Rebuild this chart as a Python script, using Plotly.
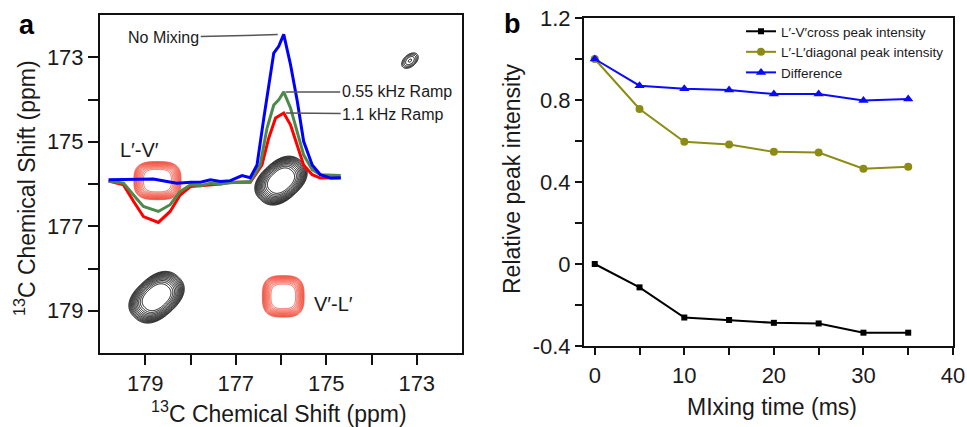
import numpy as np
import plotly.graph_objects as go

FONT = "Liberation Sans, Arial, sans-serif"
W, H = 967, 427

# ---------------- Panel a : 1D slices (x = ppm, y = plotted position in ppm) -------------
blue_x = [179.81, 179.26, 178.82, 178.52, 178.30, 178.00, 177.78, 177.56, 177.34, 177.12,
          176.86, 176.68, 176.53, 176.38, 176.16, 176.05, 175.94, 175.79, 175.64, 175.50,
          175.31, 175.13, 174.90, 174.68]
blue_y = [175.90, 175.88, 175.88, 175.94, 175.98, 175.96, 175.96, 175.90, 175.94, 175.92,
          175.80, 175.85, 175.55, 174.44, 172.90, 172.74, 172.46, 173.17, 174.04, 174.99,
          175.55, 175.78, 175.86, 175.85]
green_x = [179.81, 179.48, 179.26, 179.04, 178.71, 178.45, 178.23, 178.00, 177.78, 177.56,
           177.34, 177.12, 176.68, 176.46, 176.31, 176.16, 176.05, 175.94, 175.79, 175.64,
           175.50, 175.31, 175.13, 174.68]
green_y = [175.93, 175.98, 176.26, 176.53, 176.65, 176.49, 176.18, 176.02, 176.04, 175.98,
           176.00, 175.97, 175.94, 175.55, 174.68, 174.13, 174.01, 173.82, 174.20, 174.75,
           175.31, 175.66, 175.78, 175.80]
red_x = [179.81, 179.48, 179.26, 179.04, 178.71, 178.45, 178.23, 178.00, 177.78, 177.56,
         177.34, 177.12, 176.68, 176.42, 176.27, 176.12, 175.94, 175.79, 175.64, 175.50,
         175.31, 175.13, 174.68]
red_y = [175.93, 176.02, 176.41, 176.77, 176.91, 176.65, 176.26, 176.06, 176.04, 176.02,
         176.00, 175.96, 175.96, 175.55, 174.91, 174.44, 174.32, 174.60, 175.07, 175.55,
         175.78, 175.86, 175.86]

# ---------------- Panel a : 2D peak list (for contour maps) ---------------------------------
peak_x = [178.75, 176.00, 173.15, 178.73, 175.95]
peak_y = [178.68, 175.92, 173.08, 175.92, 178.66]
peak_color = ["#000000", "#000000", "#000000", "#f03a26", "#f03a26"]
peak_line = [1.0, 1.0, 1.0, 0.8, 0.8]
peak_half_u = [0.68, 0.64, 0.40, 0.52, 0.46]
peak_half_v = [0.46, 0.44, 0.25, 0.45, 0.49]
peak_angle = [45, 45, 45, 0, 0]
peak_power = [2.4, 2.4, 2.0, 3.0, 3.0]
peak_logamp = [0.0, 0.0, -0.7, 0.0, 0.0]

# ---------------- Panel b data ---------------------------------------------------------------
mix_time = [0, 5, 10, 15, 20, 25, 30, 35]
cross_peak = [0.0, -0.114, -0.261, -0.273, -0.287, -0.290, -0.335, -0.335]
diag_peak = [1.0, 0.756, 0.596, 0.583, 0.547, 0.544, 0.465, 0.475]
difference = [1.0, 0.870, 0.855, 0.849, 0.829, 0.829, 0.798, 0.805]

fig = go.Figure()

# contours
for x0, y0, col, lw, hu, hv, ang, pw, la in zip(peak_x, peak_y, peak_color, peak_line,
                                                peak_half_u, peak_half_v, peak_angle,
                                                peak_power, peak_logamp):
    gx = np.linspace(x0 - 0.8, x0 + 0.8, 161)
    gy = np.linspace(y0 - 0.8, y0 + 0.8, 161)
    XX, YY = np.meshgrid(gx, gy)
    dx, dy = XX - x0, YY - y0
    t = np.deg2rad(ang)
    u = dx * np.cos(t) + dy * np.sin(t)
    v = -dx * np.sin(t) + dy * np.cos(t)
    Z = la - (np.abs(u / hu) ** pw + np.abs(v / hv) ** pw)
    fig.add_trace(go.Contour(
        x=gx, y=gy, z=Z, xaxis="x", yaxis="y",
        contours=dict(start=-1.0, end=-0.14, size=0.072, coloring="none"),
        line=dict(color=col, width=lw), showscale=False, showlegend=False,
        hoverinfo="skip"))

fig.add_trace(go.Scatter(x=red_x, y=red_y, mode="lines", line=dict(color="#ff0000", width=3),
                         xaxis="x", yaxis="y", showlegend=False))
fig.add_trace(go.Scatter(x=green_x, y=green_y, mode="lines", line=dict(color="#4c8a4c", width=3),
                         xaxis="x", yaxis="y", showlegend=False))
fig.add_trace(go.Scatter(x=blue_x, y=blue_y, mode="lines", line=dict(color="#0000ff", width=3),
                         xaxis="x", yaxis="y", showlegend=False))

# panel b
fig.add_trace(go.Scatter(x=mix_time, y=cross_peak, mode="lines+markers",
                         name="L\u2032-V\u2032cross peak intensity",
                         line=dict(color="#000000", width=2),
                         marker=dict(symbol="square", size=6, color="#000000"),
                         xaxis="x2", yaxis="y2"))
fig.add_trace(go.Scatter(x=mix_time, y=diag_peak, mode="lines+markers",
                         name="L\u2032-L\u2032diagonal peak intensity",
                         line=dict(color="#8c8c14", width=2),
                         marker=dict(symbol="circle", size=8, color="#8c8c14"),
                         xaxis="x2", yaxis="y2"))
fig.add_trace(go.Scatter(x=mix_time, y=difference, mode="lines+markers",
                         name="Difference",
                         line=dict(color="#0a0aff", width=2),
                         marker=dict(symbol="triangle-up", size=9, color="#0a0aff"),
                         xaxis="x2", yaxis="y2"))

def px_x(p):
    return p / W

def px_y(p):
    return 1 - p / H

tickfont = dict(family=FONT, size=22, color="#1a1a1a")
axis_common = dict(showgrid=False, zeroline=False, showline=True, linewidth=2,
                   linecolor="#111111", mirror=True, ticks="outside", tickwidth=2,
                   tickcolor="#111111", tickfont=tickfont)

a_ticks = [179, 178, 177, 176, 175, 174, 173]
a_text = ["179", "", "177", "", "175", "", "173"]
b_xt = [0, 5, 10, 15, 20, 25, 30, 35, 40]
b_xtext = ["0", "", "10", "", "20", "", "30", "", "40"]
b_yt = [-0.4, -0.2, 0, 0.2, 0.4, 0.6, 0.8, 1.0, 1.2]
b_ytext = ["-0.4", "", "0", "", "0.4", "", "0.8", "", "1.2"]

fig.update_layout(
    width=W, height=H, margin=dict(l=0, r=0, t=0, b=0, autoexpand=False),
    paper_bgcolor="white", plot_bgcolor="white",
    font=dict(family=FONT, color="#1a1a1a"),
    xaxis=dict(domain=[px_x(100), px_x(462)], range=[180, 172], tickvals=a_ticks,
               ticktext=a_text, ticklen=10, anchor="y", **axis_common),
    yaxis=dict(domain=[px_y(353), px_y(15)], range=[180, 172], tickvals=a_ticks,
               ticktext=a_text, ticklen=10, anchor="x", **axis_common),
    xaxis2=dict(domain=[px_x(584), px_x(953)], range=[-1.2, 40], tickvals=b_xt,
                ticktext=b_xtext, ticklen=7, anchor="y2", ticklabelstandoff=2, **axis_common),
    yaxis2=dict(domain=[px_y(346), px_y(18)], range=[-0.4, 1.2], tickvals=b_yt,
                ticktext=b_ytext, ticklen=7, anchor="x2", **axis_common),
    legend=dict(x=px_x(741), y=px_y(16), xanchor="left", yanchor="top",
                font=dict(family=FONT, size=13.5, color="#1a1a1a"),
                bgcolor="rgba(0,0,0,0)", borderwidth=0, itemwidth=30, tracegroupgap=0),
)

ann = []
mid = dict(xref="paper", yref="paper", showarrow=False, xanchor="center", yanchor="middle")
# axis titles
ann.append(dict(text="<sup>13</sup>C Chemical Shift (ppm)", x=px_x(279), y=px_y(412),
                font=dict(size=23), **mid))
ann.append(dict(text="<sup>13</sup>C Chemical Shift (ppm)", x=px_x(25), y=px_y(188),
                font=dict(size=23), textangle=-90, **mid))
ann.append(dict(text="MIxing time (ms)", x=px_x(772), y=px_y(407),
                font=dict(size=23), **mid))
ann.append(dict(text="Relative peak intensity", x=px_x(512), y=px_y(179),
                font=dict(size=23), textangle=-90, **mid))
# panel letters
ann.append(dict(text="<b>a</b>", x=px_x(27), y=px_y(25), font=dict(size=27, color="#000"), **mid))
ann.append(dict(text="<b>b</b>", x=px_x(512), y=px_y(24), font=dict(size=27, color="#000"), **mid))
# peak labels in panel a
ann.append(dict(text="L\u2032-V\u2032", x=179.13, y=175.19, xref="x", yref="y",
                showarrow=False, font=dict(size=20)))
ann.append(dict(text="V\u2032-L\u2032", x=174.84, y=178.83, xref="x", yref="y",
                showarrow=False, font=dict(size=20)))

def apex(xs, ys):
    i = int(np.argmin(ys))
    return xs[i], ys[i]

bx, by = apex(blue_x, blue_y)
gx_, gy_ = apex(green_x, green_y)
rx, ry = apex(red_x, red_y)
lead = dict(showarrow=True, arrowhead=0, arrowwidth=1.5, arrowcolor="#555555",
            xref="x", yref="y", font=dict(size=16, color="#1a1a1a"))
ann.append(dict(text="No Mixing", x=bx, y=by, ax=-120, ay=3, standoff=6, **lead))
ann.append(dict(text="0.55 kHz Ramp", x=gx_, y=gy_, ax=113, ay=0, standoff=2, **lead))
ann.append(dict(text="1.1 kHz Ramp", x=rx, y=ry, ax=109, ay=1, standoff=2, **lead))

fig.update_layout(annotations=ann)
fig.write_html("out.html")
